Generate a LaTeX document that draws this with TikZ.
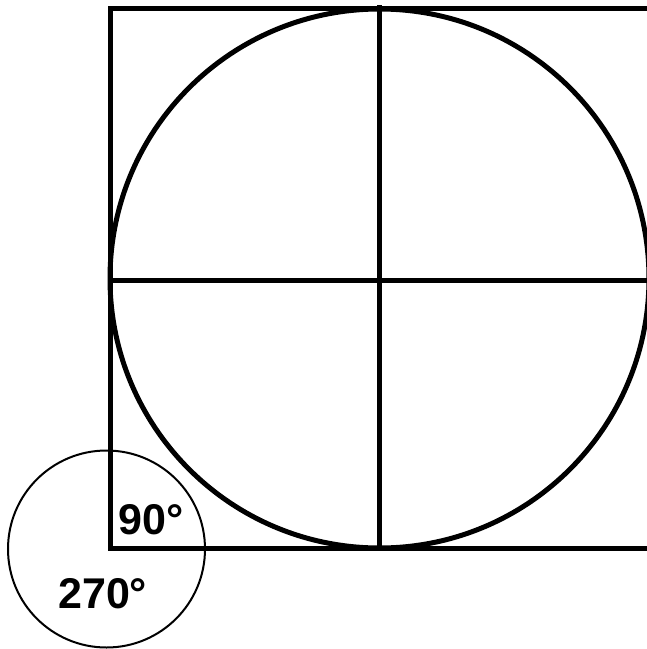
\documentclass[tikz,border=0pt]{standalone}
\usepackage{fontspec}
\setmainfont{Liberation Sans}
\begin{document}
\begin{tikzpicture}[x=1pt,y=-1pt,
  thick line/.style={line width=5pt},
  thin line/.style={line width=2pt},
  deg/.style={font=\fontsize{43}{43}\selectfont\bfseries, inner sep=0pt, anchor=base west}]
\useasboundingbox (0,0) rectangle (647,649);
\fill[white] (0,0) rectangle (647,649);
% square
\draw[thick line] (110,8.5) rectangle (650,548.5);
% inscribed circle
\draw[thick line] (379.5,278.5) circle[radius=269.5];
% cross
\draw[thick line] (379.5,5) -- (379.5,551);
\draw[thick line] (108,280) -- (648,280);
% small circle
\draw[thin line] (106.5,549) circle[radius=98.5];
\node[deg] (n90) at (118,534) {90°};
\node[deg] (n270) at (58,608) {270°};
\end{tikzpicture}
\end{document}
